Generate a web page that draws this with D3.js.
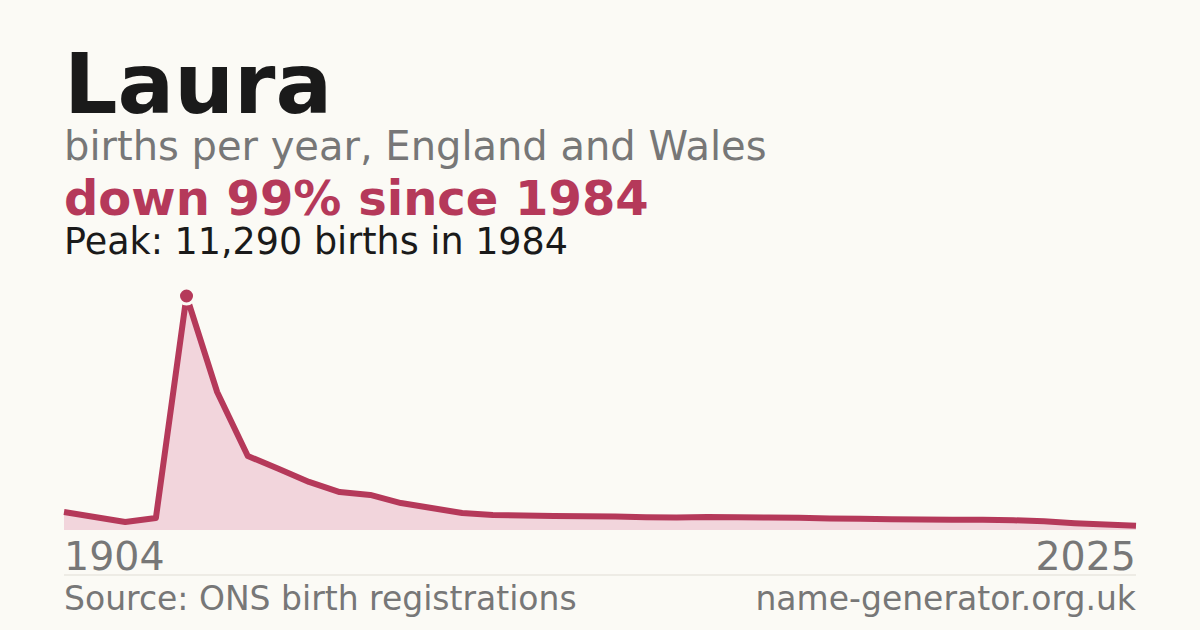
<!DOCTYPE html>
<html><head><meta charset="utf-8">
<script src="https://cdn.jsdelivr.net/npm/d3@7"></script>
<style>body{margin:0;background:#fbfaf5}</style></head>
<body><svg id="c" width="1200" height="630"></svg>
<script>
const years = [1904,1954,1964,1974,1984,1985,1986,1987,1988,1989,1990,1991,1992,1993,1994,1995,1996,1997,1998,1999,2000,2001,2002,2003,2004,2005,2006,2007,2008,2009,2010,2011,2012,2013,2014,2015];
const births = [870,630,385,580,11290,6660,3570,2950,2320,1830,1690,1300,1060,820,720,700,680,660,650,620,600,630,610,600,590,560,540,520,510,500,490,470,420,330,270,200];
const tickLabels = ["1904","2025"];
const peakIdx = births.indexOf(d3.max(births));

const svg = d3.select("#c");
svg.append("rect").attr("width",1200).attr("height",630).attr("fill","#fbfaf5");
const F = "DejaVu Sans, sans-serif";
svg.append("text").attr("x",64).attr("y",113).attr("font-family",F).attr("font-weight","bold").attr("font-size",84).attr("fill","#1a1a1a").text("Laura");
svg.append("text").attr("x",64).attr("y",160).attr("font-family",F).attr("font-size",40).attr("fill","#777").text("births per year, England and Wales");
svg.append("text").attr("x",64).attr("y",215).attr("font-family",F).attr("font-weight","bold").attr("font-size",48).attr("fill","#b5395a").text("down 99% since 1984");
svg.append("text").attr("x",64).attr("y",254).attr("font-family",F).attr("font-size",36.5).attr("fill","#1a1a1a").text("Peak: " + d3.format(",")(births[peakIdx]) + " births in " + years[peakIdx]);

const x = d3.scalePoint().domain(d3.range(births.length)).range([64,1136]);
const y = d3.scaleLinear().domain([0,births[peakIdx]]).range([530,296]);
svg.append("path").datum(births).attr("fill","#f2d5dc")
  .attr("d", d3.area().x((d,i)=>x(i)).y0(530).y1(d=>y(d)));
svg.append("path").datum(births).attr("fill","none").attr("stroke","#b5395a").attr("stroke-width",6).attr("stroke-linejoin","round")
  .attr("d", d3.line().x((d,i)=>x(i)).y(d=>y(d)));
svg.append("circle").attr("cx",x(peakIdx)).attr("cy",y(births[peakIdx])).attr("r",8).attr("fill","#b5395a").attr("stroke","#fbfaf5").attr("stroke-width",3);

svg.append("text").attr("x",64).attr("y",570).attr("font-family",F).attr("font-size",39.5).attr("fill","#777").text(tickLabels[0]);
svg.append("text").attr("x",1136).attr("y",570).attr("text-anchor","end").attr("font-family",F).attr("font-size",39.5).attr("fill","#777").text(tickLabels[1]);
svg.append("line").attr("x1",64).attr("x2",1136).attr("y1",575).attr("y2",575).attr("stroke","#e0ddd5").attr("stroke-width",1);
svg.append("text").attr("x",64).attr("y",610).attr("font-family",F).attr("font-size",33).attr("fill","#777").text("Source: ONS birth registrations");
svg.append("text").attr("x",1136).attr("y",610).attr("text-anchor","end").attr("font-family",F).attr("font-size",33).attr("fill","#777").text("name-generator.org.uk");
</script></body></html>
